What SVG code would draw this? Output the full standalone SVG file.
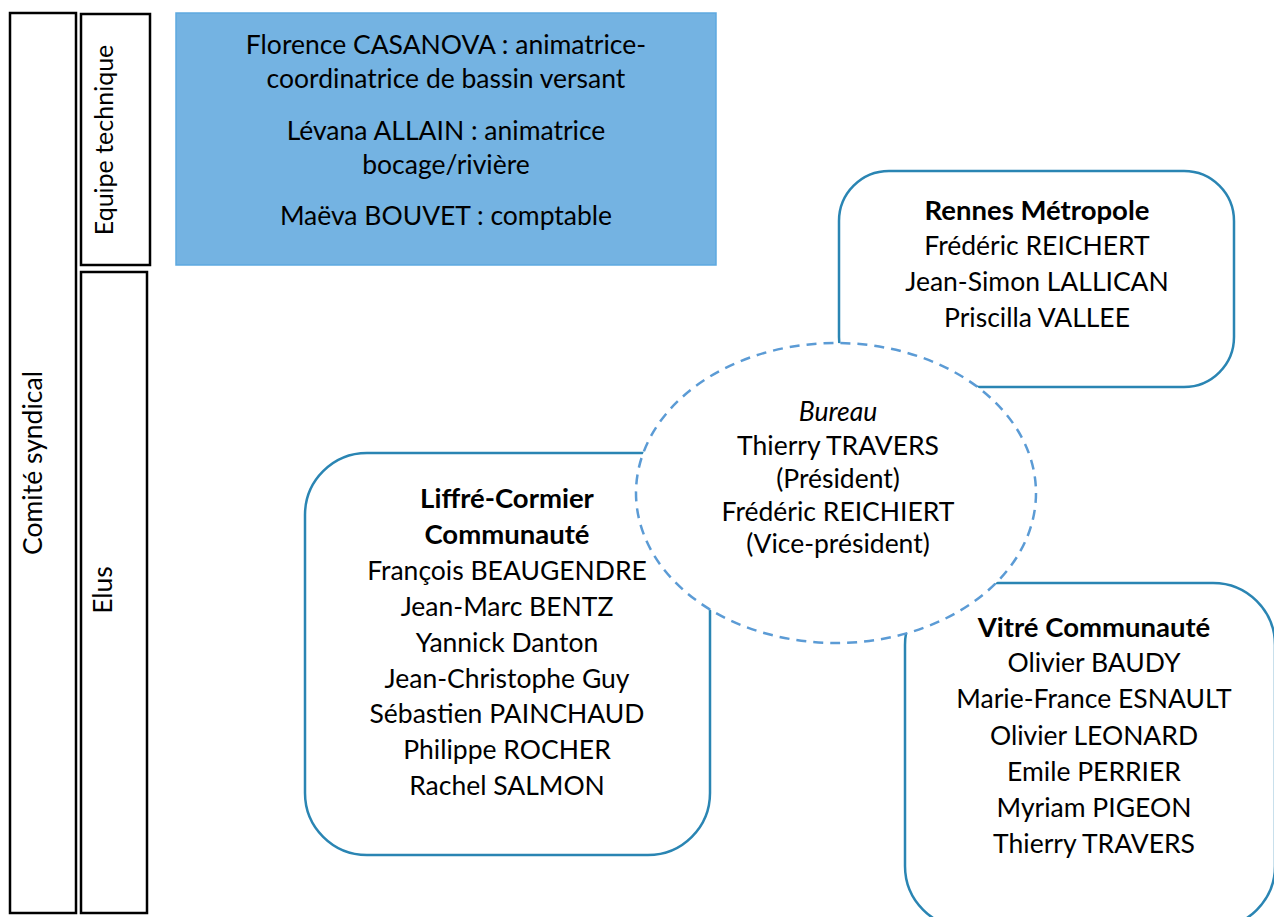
<svg xmlns="http://www.w3.org/2000/svg" width="1274" height="917" viewBox="0 0 1274 917">
<style>
text{font-family:Lato,"Liberation Sans",sans-serif;font-size:26.5px;fill:#000;text-anchor:middle}
.b{font-weight:bold;font-size:27.5px}
.i{font-style:italic}
.frame{fill:#fff;stroke:#000;stroke-width:2.5}
.org{fill:#fff;stroke:#2A85B3;stroke-width:2.5}
.bur{fill:#fff;stroke:#5B9BD5;stroke-width:2.5;stroke-dasharray:10 7}
</style>
<rect width="1274" height="917" fill="#fff"/>
<g id="comite"><rect class="frame" x="10" y="13" width="66" height="900"/><text transform="translate(42 463) rotate(-90)">Comité syndical</text></g>
<g id="equipe"><rect class="frame" x="81" y="14" width="69" height="251"/><text transform="translate(113 140) rotate(-90)" style="font-size:25px">Equipe technique</text></g>
<g id="elus"><rect class="frame" x="81" y="272" width="66" height="641"/><text transform="translate(112 590) rotate(-90)">Elus</text></g>
<g id="equipe-technique"><rect x="176" y="13" width="540" height="252" fill="#74B3E2" stroke="#5DA9E0" stroke-width="1.5"/>
<text x="446" y="54">Florence CASANOVA : animatrice-</text>
<text x="446" y="88">coordinatrice de bassin versant</text>
<text x="446" y="140">Lévana ALLAIN : animatrice</text>
<text x="446" y="174">bocage/rivière</text>
<text x="446" y="225">Maëva BOUVET : comptable</text></g>
<g id="rennes"><rect class="org" x="839" y="171" width="395" height="216" rx="50"/>
<text class="b" x="1037" y="220">Rennes Métropole</text>
<text x="1037" y="255">Frédéric REICHERT</text>
<text x="1037" y="291">Jean-Simon LALLICAN</text>
<text x="1037" y="327">Priscilla VALLEE</text></g>
<g id="liffre"><rect class="org" x="305" y="453" width="405" height="402" rx="62"/>
<text class="b" x="507" y="508">Liffré-Cormier</text>
<text class="b" x="507" y="544">Communauté</text>
<text x="507" y="580">François BEAUGENDRE</text>
<text x="507" y="616">Jean-Marc BENTZ</text>
<text x="507" y="652">Yannick Danton</text>
<text x="507" y="688">Jean-Christophe Guy</text>
<text x="507" y="723">Sébastien PAINCHAUD</text>
<text x="507" y="759">Philippe ROCHER</text>
<text x="507" y="795">Rachel SALMON</text></g>
<g id="vitre"><rect class="org" x="905" y="583" width="370" height="345" rx="62"/>
<text class="b" x="1094" y="637">Vitré Communauté</text>
<text x="1094" y="672">Olivier BAUDY</text>
<text x="1094" y="708">Marie-France ESNAULT</text>
<text x="1094" y="745">Olivier LEONARD</text>
<text x="1094" y="781">Emile PERRIER</text>
<text x="1094" y="817">Myriam PIGEON</text>
<text x="1094" y="853">Thierry TRAVERS</text></g>
<g id="bureau"><ellipse class="bur" cx="836" cy="493" rx="200" ry="150"/>
<text class="i" x="838" y="421">Bureau</text>
<text x="838" y="455">Thierry TRAVERS</text>
<text x="838" y="488">(Président)</text>
<text x="838" y="521">Frédéric REICHIERT</text>
<text x="838" y="553">(Vice-président)</text></g>
<g id="connectors"/>
</svg>
